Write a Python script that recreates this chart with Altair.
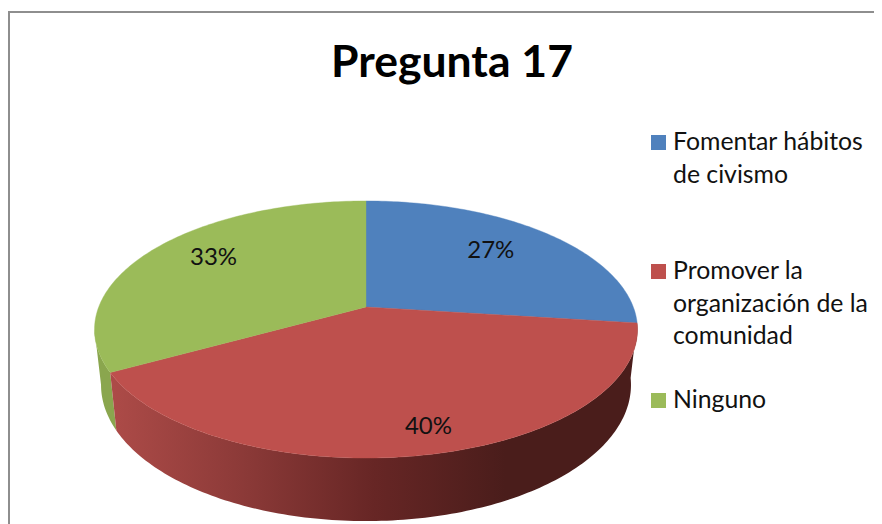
import math
import altair as alt
import pandas as pd

TITLE = "Pregunta 17"
CATEGORIES = ["Fomentar hábitos\nde civismo", "Promover la\norganización de la\ncomunidad", "Ninguno"]
SHARES = [27, 40, 33]
LABELS = ["27%", "40%", "33%"]
COLORS = ["#4F81BD", "#BE504D", "#9BBB59"]

W, H = 866, 516
OX, OY = 8, 8  # page margin

# perspective pie geometry (page pixels)
CX, CY, A, B, K = 366, 307, 267.3, 124.6, 0.175
DEPTH, SX, SY = 54, 0.976, 1.06


def top(deg, r=1.0):
    t = math.radians(deg)
    u, v = r * math.sin(t), r * math.cos(t)
    d = 1 + K * v
    return (CX + A * u / d - OX, CY - B * v / d - OY)


def bottom(deg):
    x, y = top(deg)
    return (CX - OX + SX * (x - (CX - OX)), CY - OY + DEPTH + SY * (y - (CY - OY)))


def arc(a, b, f=top):
    n = max(2, int(abs(b - a)) + 1)
    return [f(a + (b - a) * i / (n - 1)) for i in range(n)]


def poly(pts, name=""):
    ring = [list(p) for p in pts]
    ring.append(ring[0])
    return {"type": "Feature", "properties": {"name": name},
            "geometry": {"type": "Polygon", "coordinates": [ring]}}


total = sum(SHARES)
edges = [0]
for s in SHARES:
    edges.append(edges[-1] + 360 * s / total)

LEFT_EXTREME = 360 - math.degrees(math.acos(-K))
slices = [poly([top(0, 0)] + arc(edges[i], edges[i + 1]), CATEGORIES[i]) for i in range(3)]
red_side = poly(arc(edges[1], edges[2]) + arc(edges[2], edges[1], bottom))
green_side = poly(arc(edges[2], LEFT_EXTREME) + arc(LEFT_EXTREME, edges[2], bottom))

proj = alt.Projection(type="identity", scale=1, translate=[0, 0])


def geo(features):
    return alt.Chart(alt.Data(values=features)).properties(projection=proj)


frame = geo([{"type": "Feature", "properties": {},
              "geometry": {"type": "LineString",
                           "coordinates": [[W + 5, 4], [1, 4], [1, H + 5]]}}]
            ).mark_geoshape(filled=False, stroke="#8E8E8E", strokeWidth=2)

side_r = geo([red_side]).mark_geoshape(
    stroke=None,
    fill=alt.Gradient(gradient="linear", x1=0, x2=1, y1=0, y2=0, stops=[
        alt.GradientStop(offset=0, color="#AD4B48"),
        alt.GradientStop(offset=0.25, color="#8C3A38"),
        alt.GradientStop(offset=0.5, color="#672625"),
        alt.GradientStop(offset=0.75, color="#4A1D1B"),
        alt.GradientStop(offset=1, color="#4A1D1B"),
    ]))
side_g = geo([green_side]).mark_geoshape(stroke=None, fill="#8AA64E")

faces = geo(slices).mark_geoshape(strokeWidth=0.4).encode(
    color=alt.Color("properties.name:N", legend=None,
                    scale=alt.Scale(domain=CATEGORIES, range=COLORS)),
    stroke=alt.Color("properties.name:N", legend=None,
                     scale=alt.Scale(domain=CATEGORIES, range=COLORS)),
)

# data labels: placed along each slice in the perspective plane
LABEL_R = [0.71, 0.84, 0.75]
LABEL_TURN = [-3, -3, 4.5]
mids = [(edges[i] + edges[i + 1]) / 2 + LABEL_TURN[i] for i in range(3)]
lab = pd.DataFrame({"label": LABELS,
                    "x": [top(mids[i], LABEL_R[i])[0] for i in range(3)],
                    "y": [top(mids[i], LABEL_R[i])[1] for i in range(3)]})
labels = alt.Chart(lab).mark_text(font="Lato", fontSize=24, color="#111111",
                                  baseline="middle", dy=1).encode(
    longitude="x:Q", latitude="y:Q", text="label:N").properties(projection=proj)

# legend
LEG_X, LEG_ROWS = 651 - OX, [135 - OY, 264 - OY, 393 - OY]
leg = pd.DataFrame({"cat": CATEGORIES,
                    "sx": [LEG_X + 7.5] * 3,
                    "sy": [r + 7.5 for r in LEG_ROWS],
                    "tx": [LEG_X + 22] * 3,
                    "ty": [r + 15 for r in LEG_ROWS]})
leg_sym = alt.Chart(leg).mark_square(size=225, opacity=1).encode(
    longitude="sx:Q", latitude="sy:Q",
    color=alt.Color("cat:N", legend=None, scale=alt.Scale(domain=CATEGORIES, range=COLORS)),
).properties(projection=proj)
leg_txt = alt.Chart(leg).mark_text(font="Lato", fontSize=24.8, color="#111111", align="left",
                                   baseline="alphabetic", lineBreak="\n", lineHeight=32.5).encode(
    longitude="tx:Q", latitude="ty:Q", text="cat:N").properties(projection=proj)

chart = alt.layer(frame, side_g, side_r, faces, labels, leg_sym, leg_txt).properties(
    width=W, height=H, padding=0, autosize=alt.AutoSizeParams(type="none"),
    title=alt.TitleParams(TITLE, font="Lato", fontSize=44.5, fontWeight="bold", color="#000000",
                          anchor="middle", offset=0, dy=78, dx=11),
).configure_view(stroke=None)

chart.save("out.html", embed_options={"renderer": "svg", "actions": False})
